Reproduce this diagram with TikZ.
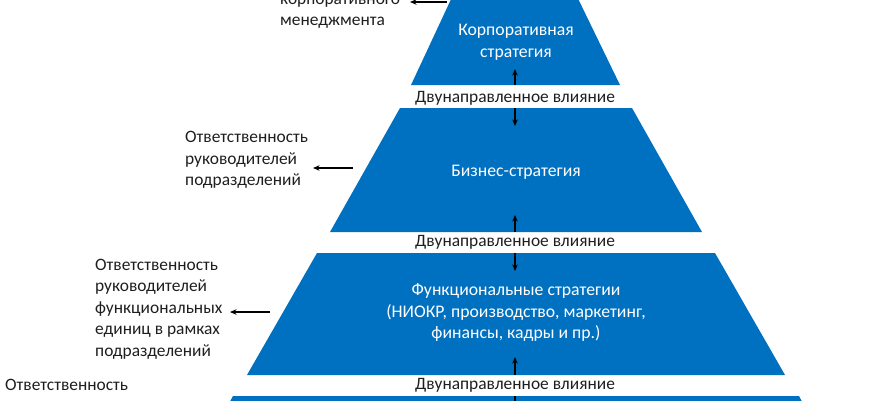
\documentclass[tikz,border=0pt]{standalone}
\usepackage{fontspec}
\setmainfont{Carlito}
\usetikzlibrary{arrows.meta}
\definecolor{lvlblue}{HTML}{0070C0}
\definecolor{inkdark}{HTML}{1E1E1E}
\begin{document}
\begin{tikzpicture}[x=1pt,y=-1pt,
  lvl/.style={fill=lvlblue,draw=none},
  wtext/.style={text=white,font=\fontsize{17.7}{21.5}\selectfont,align=center,inner sep=0pt},
  btext/.style={text=inkdark,font=\fontsize{17.4}{21.5}\selectfont,align=left,inner sep=0pt,anchor=west},
  bilabel/.style={text=inkdark,font=\fontsize{17.4}{21.5}\selectfont,inner sep=0pt,anchor=base},
  con/.style={-{Stealth[length=6.5pt,width=5.5pt]},line width=1.1pt,black}]
\useasboundingbox (0,0) rectangle (870,400);
\clip (0,0) rectangle (870,400);
% levels
\path[lvl] (460,-20) -- (569,-20) -- (620,85) -- (411,85) -- cycle;
\path[lvl] (400,108) -- (632,108) -- (702,232) -- (330,232) -- cycle;
\path[lvl] (317,253) -- (715,253) -- (785,375) -- (247,375) -- cycle;
\path[lvl] (233,396) -- (799,396) -- (812,420) -- (220,420) -- cycle;
% texts in levels
\node[wtext] (corp) at (516,42) {Корпоративная\\стратегия};
\node[wtext,anchor=base] (bus) at (516,176) {Бизнес-стратегия};
\node[wtext] (func) at (516,313) {Функциональные стратегии\\(НИОКР, производство, маркетинг,\\финансы, кадры и пр.)};
% two-way labels
\node[bilabel] (bi1) at (515,102) {Двунаправленное влияние};
\node[bilabel] (bi2) at (515,246) {Двунаправленное влияние};
\node[bilabel] (bi3) at (515,389) {Двунаправленное влияние};
% side texts
\node[btext] (resp1) at (280,12) {корпоративного\\менеджмента};
\node[btext] (resp2) at (185,160) {Ответственность\\руководителей\\подразделений};
\node[btext] (resp3) at (95,309) {Ответственность\\руководителей\\функциональных\\единиц в рамках\\подразделений};
\node[btext,anchor=base west] (resp4) at (5,390) {Ответственность};
% arrow coordinates
\coordinate (u1s) at (515,85);  \coordinate (u1e) at (515,69);
\coordinate (d2s) at (515,108); \coordinate (d2e) at (515,126);
\coordinate (u2s) at (515,232); \coordinate (u2e) at (515,215);
\coordinate (d3s) at (515,253); \coordinate (d3e) at (515,271);
\coordinate (u3s) at (515,375); \coordinate (u3e) at (515,357);
\coordinate (d4s) at (515,396); \coordinate (d4e) at (515,414);
\coordinate (l1s) at (447,2);   \coordinate (l1e) at (410,2);
\coordinate (l2s) at (353,168); \coordinate (l2e) at (313,168);
\coordinate (l3s) at (270,312); \coordinate (l3e) at (230,312);
\foreach \s/\e in {u1s/u1e,d2s/d2e,u2s/u2e,d3s/d3e,u3s/u3e,d4s/d4e,l1s/l1e,l2s/l2e,l3s/l3e}
  \draw[con] (\s) -- (\e);
\end{tikzpicture}
\end{document}
